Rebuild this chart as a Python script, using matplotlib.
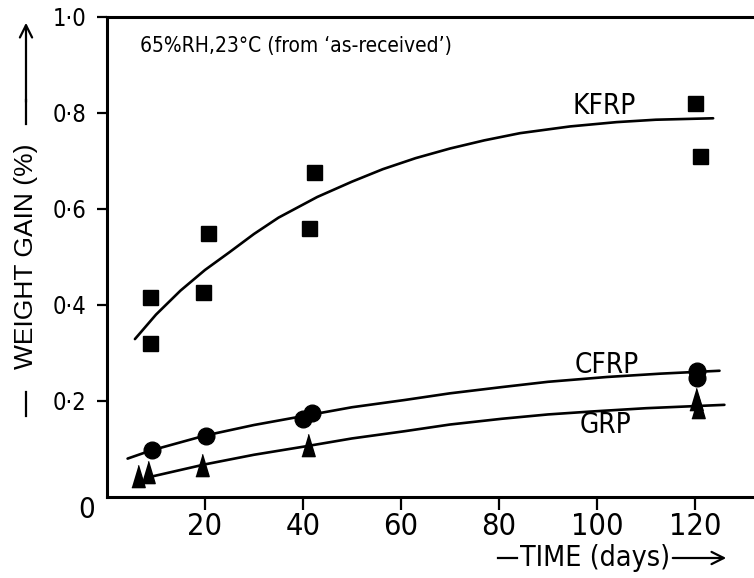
import matplotlib
matplotlib.use("Agg")
import matplotlib.pyplot as plt
from matplotlib import font_manager

# ---------------- data ----------------
kfrp_days = [8.7, 8.8, 19.6, 20.6, 41.2, 42.2, 120.0, 121.0]
kfrp_vals = [0.417, 0.321, 0.428, 0.549, 0.560, 0.677, 0.820, 0.710]

cfrp_days = [9.2, 20.2, 40.0, 41.8, 120.4, 120.5]
cfrp_vals = [0.098, 0.128, 0.163, 0.174, 0.262, 0.247]

grp_days = [6.3, 8.4, 19.4, 41.0, 120.2, 120.7]
grp_vals = [0.043, 0.052, 0.066, 0.108, 0.205, 0.188]

# hand-drawn trend curves
kfrp_curve_days = [5.7, 10.0, 15.0, 20.0, 25.0, 30.0, 35.0, 42.9, 50.0, 56.3, 63.0,
                   70.0, 77.0, 84.3, 94.5, 104.0, 112.0, 123.7]
kfrp_curve_vals = [0.329, 0.380, 0.430, 0.473, 0.510, 0.548, 0.582, 0.625, 0.657, 0.683, 0.706,
                   0.726, 0.743, 0.758, 0.772, 0.781, 0.786, 0.789]

cfrp_curve_days = [4.2, 9.0, 20.0, 30.0, 40.8, 50.0, 60.7, 70.0, 80.6, 90.0, 102.0, 113.0, 125.0]
cfrp_curve_vals = [0.080, 0.097, 0.128, 0.150, 0.170, 0.187, 0.202, 0.216, 0.229, 0.240, 0.250, 0.257, 0.263]

grp_curve_days = [8.0, 20.0, 30.0, 40.8, 50.0, 60.7, 70.0, 80.6, 90.0, 98.7, 110.0, 126.0]
grp_curve_vals = [0.040, 0.068, 0.088, 0.106, 0.122, 0.137, 0.151, 0.163, 0.172, 0.178, 0.185, 0.192]

x_ticks = [20, 40, 60, 80, 100, 120]
x_tick_labels = ["20", "40", "60", "80", "100", "120"]
y_ticks = [0.2, 0.4, 0.6, 0.8, 1.0]
y_tick_labels = ["0·2", "0·4", "0·6", "0·8", "1·0"]

title_text = "65%RH,23°C (from ‘as-received’)"
series_names = ["KFRP", "CFRP", "GRP"]

# ---------------- font ----------------
names = {f.name for f in font_manager.fontManager.ttflist}
if "Liberation Sans Narrow" in names:
    FAM = ["Liberation Sans Narrow", "DejaVu Sans"]
    STRETCH = "normal"
else:
    FAM = ["DejaVu Sans"]
    STRETCH = "condensed"
WIDE = ["Liberation Sans", "DejaVu Sans"] if "Liberation Sans" in names else ["DejaVu Sans"]
plt.rcParams["font.family"] = FAM
plt.rcParams["font.stretch"] = STRETCH

W, H = 754, 578
fig = plt.figure(figsize=(W / 100, H / 100), dpi=100)

def fx(px):
    return px / W

def fy(py):
    return 1 - py / H

left_px, right_px, top_px, bot_px = 107, 754, 17, 497
ax = fig.add_axes([fx(left_px), fy(bot_px), fx(right_px) - fx(left_px), fy(top_px) - fy(bot_px)])

ax.set_xlim(0, (right_px - left_px) / 4.9)
ax.set_ylim(0, 1.0)

lw = 1.9
ax.plot(kfrp_curve_days, kfrp_curve_vals, color="black", lw=lw, solid_capstyle="round")
ax.plot(cfrp_curve_days, cfrp_curve_vals, color="black", lw=lw, solid_capstyle="round")
ax.plot(grp_curve_days, grp_curve_vals, color="black", lw=lw, solid_capstyle="round")

tri = [(-0.6, -1.0), (0.6, -1.0), (0.0, 1.0)]
ax.plot(kfrp_days, kfrp_vals, ls="none", marker="s", ms=10.8, color="black")
ax.plot(grp_days, grp_vals, ls="none", marker=tri, ms=16, color="black")
ax.plot(cfrp_days, cfrp_vals, ls="none", marker="o", ms=12, color="black")

for s in ["left", "bottom", "top"]:
    ax.spines[s].set_linewidth(2.2)
ax.spines["right"].set_visible(False)

ax.set_xticks(x_ticks)
ax.set_xticklabels(x_tick_labels, fontsize=22)
ax.set_yticks(y_ticks)
ax.set_yticklabels(y_tick_labels, fontsize=17)
ax.tick_params(axis="x", direction="out", length=9, width=1.6, pad=2)
ax.tick_params(axis="y", direction="out", length=7, width=1.6, pad=8)

# origin label
ax.text((87 - left_px) / (right_px - left_px), -0.027, "0", transform=ax.transAxes,
        fontsize=21, ha="center", va="center")

# title
ax.text((140 - left_px) / (right_px - left_px), 0.94, title_text,
        transform=ax.transAxes, fontsize=15, ha="left", va="center")

# curve labels
ax.text(95.1, 0.815, series_names[0], fontsize=20, ha="left", va="center")
ax.text(95.5, 0.276, series_names[1], fontsize=20, ha="left", va="center")
ax.text(96.5, 0.150, series_names[2], fontsize=20, ha="left", va="center")

# y-axis label with dashes and arrow
yl_x = fx(26)
fig.add_artist(plt.Line2D([yl_x, yl_x], [fy(416), fy(392)], color="black", lw=1.6, transform=fig.transFigure))
fig.text(yl_x, fy(256), "WEIGHT GAIN (%)", rotation=90, fontsize=19, family=WIDE,
         stretch="normal", ha="center", va="center")
fig.add_artist(plt.Line2D([yl_x, yl_x], [fy(124), fy(100)], color="black", lw=1.6, transform=fig.transFigure))
ax.annotate("", xy=(yl_x, fy(20)), xytext=(yl_x, fy(105)), xycoords="figure fraction",
            textcoords="figure fraction",
            arrowprops=dict(arrowstyle="->", lw=1.6, color="black", mutation_scale=22))

# x-axis label with dash and arrow
xl_y = fy(558)
fig.add_artist(plt.Line2D([fx(498), fx(517)], [xl_y, xl_y], color="black", lw=1.6, transform=fig.transFigure))
fig.text(fx(520), xl_y, "TIME (days)", fontsize=20.5, ha="left", va="center")
ax.annotate("", xy=(fx(729), xl_y), xytext=(fx(670), xl_y), xycoords="figure fraction",
            textcoords="figure fraction",
            arrowprops=dict(arrowstyle="->", lw=1.6, color="black", mutation_scale=22))

fig.savefig("out.png", dpi=100)
